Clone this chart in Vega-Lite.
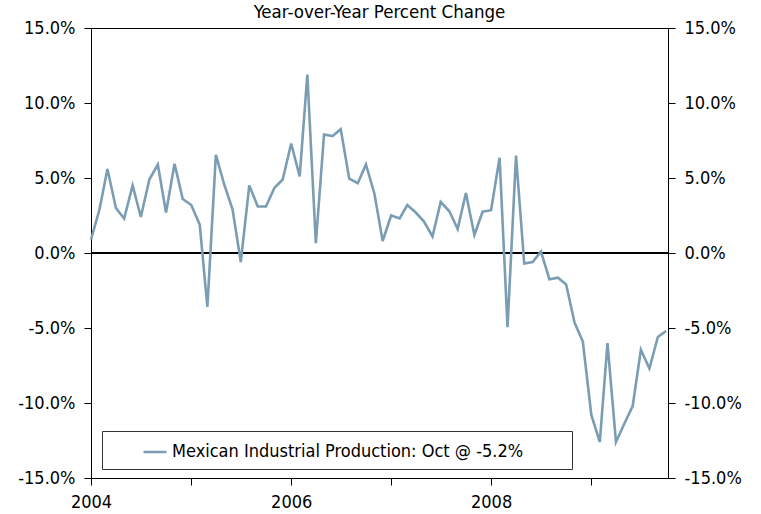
{
  "$schema": "https://vega.github.io/schema/vega-lite/v6.json",
  "width": 577,
  "height": 450,
  "autosize": {"type": "none"},
  "padding": {"left": 91, "top": 28, "right": 93, "bottom": 36},
  "background": "white",
  "title": {"text": "Year-over-Year Percent Change", "fontSize": 18.5, "fontWeight": "normal", "font": "DejaVu Sans Condensed", "color": "black", "offset": -2, "anchor": "middle"},
  "data": {"values": [
    {"date": "2004-01-01", "value": 0.9}, {"date": "2004-02-01", "value": 2.9}, {"date": "2004-03-01", "value": 5.6}, {"date": "2004-04-01", "value": 3.0},
    {"date": "2004-05-01", "value": 2.3}, {"date": "2004-06-01", "value": 4.5}, {"date": "2004-07-01", "value": 2.4}, {"date": "2004-08-01", "value": 4.9},
    {"date": "2004-09-01", "value": 5.9}, {"date": "2004-10-01", "value": 2.7}, {"date": "2004-11-01", "value": 5.95}, {"date": "2004-12-01", "value": 3.6},
    {"date": "2005-01-01", "value": 3.2}, {"date": "2005-02-01", "value": 1.9}, {"date": "2005-03-01", "value": -3.6}, {"date": "2005-04-01", "value": 6.55},
    {"date": "2005-05-01", "value": 4.6}, {"date": "2005-06-01", "value": 2.9}, {"date": "2005-07-01", "value": -0.6}, {"date": "2005-08-01", "value": 4.5},
    {"date": "2005-09-01", "value": 3.1}, {"date": "2005-10-01", "value": 3.1}, {"date": "2005-11-01", "value": 4.35}, {"date": "2005-12-01", "value": 4.9},
    {"date": "2006-01-01", "value": 7.3}, {"date": "2006-02-01", "value": 5.1}, {"date": "2006-03-01", "value": 11.9}, {"date": "2006-04-01", "value": 0.65},
    {"date": "2006-05-01", "value": 7.9}, {"date": "2006-06-01", "value": 7.8}, {"date": "2006-07-01", "value": 8.25}, {"date": "2006-08-01", "value": 4.95},
    {"date": "2006-09-01", "value": 4.65}, {"date": "2006-10-01", "value": 5.9}, {"date": "2006-11-01", "value": 3.95}, {"date": "2006-12-01", "value": 0.8},
    {"date": "2007-01-01", "value": 2.5}, {"date": "2007-02-01", "value": 2.3}, {"date": "2007-03-01", "value": 3.2}, {"date": "2007-04-01", "value": 2.7},
    {"date": "2007-05-01", "value": 2.1}, {"date": "2007-06-01", "value": 1.1}, {"date": "2007-07-01", "value": 3.4}, {"date": "2007-08-01", "value": 2.8},
    {"date": "2007-09-01", "value": 1.6}, {"date": "2007-10-01", "value": 4.0}, {"date": "2007-11-01", "value": 1.2}, {"date": "2007-12-01", "value": 2.75},
    {"date": "2008-01-01", "value": 2.85}, {"date": "2008-02-01", "value": 6.35}, {"date": "2008-03-01", "value": -4.95}, {"date": "2008-04-01", "value": 6.5},
    {"date": "2008-05-01", "value": -0.7}, {"date": "2008-06-01", "value": -0.6}, {"date": "2008-07-01", "value": 0.1}, {"date": "2008-08-01", "value": -1.75},
    {"date": "2008-09-01", "value": -1.65}, {"date": "2008-10-01", "value": -2.1}, {"date": "2008-11-01", "value": -4.65}, {"date": "2008-12-01", "value": -5.9},
    {"date": "2009-01-01", "value": -10.8}, {"date": "2009-02-01", "value": -12.6}, {"date": "2009-03-01", "value": -6.0}, {"date": "2009-04-01", "value": -12.6},
    {"date": "2009-05-01", "value": -11.4}, {"date": "2009-06-01", "value": -10.2}, {"date": "2009-07-01", "value": -6.45}, {"date": "2009-08-01", "value": -7.7},
    {"date": "2009-09-01", "value": -5.6}, {"date": "2009-10-01", "value": -5.2}
  ]},
  "layer": [
    {
      "mark": {"type": "rule", "color": "black", "strokeWidth": 1.5},
      "encoding": {
        "y": {"datum": 0, "type": "quantitative", "scale": {"domain": [-15, 15], "nice": false, "zero": false},
          "axis": {"orient": "right", "values": [-15, -10, -5, 0, 5, 10, 15], "title": null,
            "labelExpr": "(datum.value < 0 ? '-' : '') + format(abs(datum.value), '.1f') + '%'"}}
      }
    },
    {
      "mark": {"type": "line", "strokeWidth": 2.6},
      "encoding": {
        "x": {"field": "date", "type": "temporal", "title": null,
          "scale": {"domain": ["2004-01-01", "2009-10-08"], "nice": false},
          "axis": {"values": ["2004-01-01", "2005-01-01", "2006-01-01", "2007-01-01", "2008-01-01", "2009-01-01"],
            "labelExpr": "year(datum.value) % 2 == 0 ? timeFormat(datum.value, '%Y') : ''",
            "labelAlign": "center", "labelFlush": false, "labelPadding": 8}},
        "y": {"field": "value", "type": "quantitative", "scale": {"domain": [-15, 15], "nice": false, "zero": false},
          "axis": {"orient": "left", "values": [-15, -10, -5, 0, 5, 10, 15], "title": null,
            "labelExpr": "(datum.value < 0 ? '-' : '') + format(abs(datum.value), '.1f') + '%'"}},
        "color": {"datum": "Mexican Industrial Production: Oct @ -5.2%", "type": "nominal",
          "scale": {"range": ["#7b9db4"]},
          "legend": {"title": " ", "titleOrient": "right", "titlePadding": 41, "orient": "none", "legendX": 11, "legendY": 403,
            "symbolType": "stroke", "symbolStrokeWidth": 2.5, "symbolSize": 529, "symbolOffset": 32, "labelOffset": 4, "labelLimit": 700,
            "labelFontSize": 18, "labelFont": "DejaVu Sans Condensed", "labelColor": "black",
            "strokeColor": "#333333", "fillColor": "white", "padding": 8}}
      }
    }
  ],
  "resolve": {"scale": {"y": "independent"}},
  "config": {
    "view": {"stroke": "black", "strokeWidth": 1},
    "font": "DejaVu Sans Condensed",
    "axis": {"grid": false, "domainColor": "black", "domainWidth": 1, "tickColor": "black", "tickSize": 7,
      "labelColor": "black", "labelFontSize": 18, "labelFont": "DejaVu Sans Condensed", "labelPadding": 9}
  }
}
